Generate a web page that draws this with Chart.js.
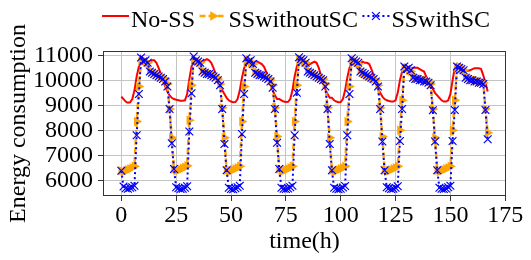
<!DOCTYPE html>
<html>
<head>
<meta charset="utf-8">
<script src="https://cdn.jsdelivr.net/npm/chart.js@4/dist/chart.umd.min.js"></script>
<style>
  html, body { margin: 0; padding: 0; background: #fff; }
  #c { display: block; }
</style>
</head>
<body>
<canvas id="c" width="531" height="260"></canvas>
<script>
// ---- data (hourly, one week) ----
const hours = [];
for (let i = 0; i < 168; i++) hours.push(i);

const noSS = [
  9350, 9250, 9150, 9100, 9120, 9250, 9600, 10150, 10550, 10700, 10650, 10700, 10750, 10750, 10800, 10800, 10700, 10500, 10250, 10000, 9750, 9550, 9400, 9300,
  9250, 9220, 9200, 9180, 9180, 9200, 9450, 10050, 10550, 10750, 10800, 10750, 10700, 10750, 10800, 10850, 10800, 10700, 10500, 10250, 10000, 9800, 9600, 9450,
  9300, 9200, 9150, 9120, 9130, 9250, 9600, 10100, 10500, 10650, 10700, 10650, 10700, 10750, 10750, 10700, 10650, 10550, 10350, 10100, 9850, 9600, 9400, 9250,
  9250, 9200, 9150, 9130, 9140, 9250, 9600, 10150, 10550, 10750, 10750, 10700, 10650, 10600, 10650, 10700, 10750, 10700, 10500, 10200, 9900, 9650, 9450, 9300,
  9300, 9200, 9150, 9120, 9130, 9250, 9600, 10100, 10500, 10650, 10700, 10700, 10650, 10700, 10750, 10700, 10700, 10650, 10450, 10200, 9950, 9700, 9500, 9350,
  9250, 9200, 9170, 9150, 9150, 9200, 9500, 10000, 10350, 10450, 10400, 10450, 10480, 10500, 10500, 10500, 10450, 10400, 10350, 10150, 9950, 9800, 9650, 9500,
  9400, 9300, 9200, 9150, 9150, 9200, 9450, 10000, 10500, 10650, 10650, 10600, 10500, 10400, 10380, 10400, 10450, 10480, 10480, 10480, 10450, 10200, 9900, 9550
];

const ssWithoutSC = [
  6380, 6350, 6380, 6420, 6460, 6500, 6560, 8350, 9750, 10750, 10800, 10750, 10700, 10400, 10350, 10300, 10250, 10200, 10150, 10100, 10050, 9850, 8850, 7700,
  6450, 6380, 6400, 6430, 6480, 6520, 6580, 8400, 9800, 10800, 10800, 10750, 10700, 10400, 10350, 10300, 10280, 10250, 10200, 10150, 10050, 9850, 8900, 7700,
  6400, 6350, 6380, 6420, 6460, 6500, 6560, 8350, 9750, 10750, 10800, 10700, 10650, 10350, 10300, 10250, 10250, 10200, 10150, 10100, 10000, 9800, 8900, 7750,
  6450, 6350, 6380, 6420, 6460, 6500, 6560, 8350, 9800, 10800, 10850, 10750, 10700, 10400, 10350, 10300, 10250, 10200, 10150, 10100, 10050, 9850, 8900, 7700,
  6400, 6350, 6380, 6420, 6460, 6500, 6560, 8350, 9750, 10750, 10800, 10700, 10650, 10400, 10300, 10250, 10200, 10150, 10100, 10050, 10000, 9800, 8900, 7750,
  6400, 6350, 6380, 6420, 6460, 6500, 6560, 8000, 9200, 10500, 10500, 10400, 10350, 10150, 10100, 10100, 10050, 10050, 10000, 10000, 9950, 9850, 8850, 7700,
  6400, 6350, 6380, 6420, 6460, 6500, 6560, 8000, 9200, 10500, 10550, 10450, 10400, 10150, 10100, 10050, 10050, 10000, 10000, 9950, 9950, 9900, 8850, 7900
];

const ssWithSC = [
  6380, 5750, 5680, 5660, 5700, 5720, 5780, 7800, 9450, 10910, 10750, 10800, 10700, 10350, 10300, 10250, 10200, 10150, 10100, 10050, 9950, 9750, 8850, 7480,
  6450, 5720, 5680, 5650, 5660, 5700, 5760, 7950, 9480, 10950, 10800, 10750, 10700, 10350, 10300, 10250, 10250, 10200, 10150, 10100, 10000, 9800, 8850, 7450,
  6400, 5700, 5650, 5640, 5680, 5720, 5780, 7850, 9450, 10880, 10750, 10800, 10650, 10300, 10250, 10200, 10200, 10150, 10100, 10050, 9950, 9700, 8850, 7500,
  6450, 5700, 5660, 5650, 5670, 5720, 5780, 7800, 9500, 10920, 10850, 10800, 10700, 10350, 10300, 10250, 10200, 10150, 10100, 10050, 10000, 9750, 8850, 7450,
  6400, 5700, 5660, 5640, 5660, 5710, 5770, 7800, 9450, 10880, 10800, 10750, 10700, 10350, 10300, 10250, 10200, 10150, 10100, 10050, 9950, 9750, 8850, 7550,
  6400, 5720, 5680, 5650, 5660, 5700, 5760, 7570, 8850, 10550, 10450, 10500, 10400, 10100, 10050, 10050, 10000, 10000, 9950, 9950, 9900, 9800, 8800, 7550,
  6400, 5700, 5660, 5650, 5670, 5720, 5780, 7570, 8810, 10550, 10500, 10450, 10400, 10100, 10050, 10000, 10000, 9950, 9950, 9900, 9900, 9850, 8810, 7640
];

const seriesLabels = ['No-SS', 'SSwithoutSC', 'SSwithSC'];
const xTicks = [0, 25, 50, 75, 100, 125, 150, 175];
const yTicks = [6000, 7000, 8000, 9000, 10000, 11000];

const FONT = 'Liberation Serif';

// ---- custom legend (matplotlib style) and frame ----
function drawMarker(ctx, style, x, y, r, color) {
  ctx.save();
  ctx.fillStyle = color; ctx.strokeStyle = color; ctx.setLineDash([]);
  if (style === 'triangle') {
    ctx.beginPath();
    ctx.moveTo(x + r, y);
    ctx.lineTo(x - r * 0.5, y - r * 0.866);
    ctx.lineTo(x - r * 0.5, y + r * 0.866);
    ctx.closePath(); ctx.fill();
  } else if (style === 'crossRot') {
    const d = r * 0.707;
    ctx.lineWidth = 1.2;
    ctx.beginPath();
    ctx.moveTo(x - d, y - d); ctx.lineTo(x + d, y + d);
    ctx.moveTo(x - d, y + d); ctx.lineTo(x + d, y - d);
    ctx.stroke();
  }
  ctx.restore();
}

const legendAndFrame = {
  id: 'legendAndFrame',
  afterDraw(chart) {
    const ctx = chart.ctx;
    const a = chart.chartArea;
    ctx.save();
    // frame
    ctx.strokeStyle = '#333';
    ctx.lineWidth = 1;
    ctx.setLineDash([]);
    ctx.strokeRect(Math.round(a.left) + 0.5, Math.round(a.top) + 0.5,
                   Math.round(a.right) - Math.round(a.left) - 1, Math.round(a.bottom) - Math.round(a.top) - 1);
    // legend, in label order
    ctx.font = '24px "' + FONT + '"';
    ctx.textBaseline = 'alphabetic';
    let x = 102;
    const yLine = 16, yText = 26.5, sample = 27;
    seriesLabels.forEach(lbl => {
      const ds = chart.data.datasets.find(d => d.label === lbl);
      ctx.save();
      ctx.strokeStyle = ds.borderColor;
      ctx.lineWidth = ds.borderWidth;
      ctx.setLineDash(ds.borderDash || []);
      ctx.beginPath(); ctx.moveTo(x, yLine); ctx.lineTo(x + sample, yLine); ctx.stroke();
      ctx.restore();
      if (ds.pointRadius > 0) drawMarker(ctx, ds.pointStyle, x + sample / 2, yLine, ds.pointRadius, ds.borderColor);
      x += sample + 2;
      ctx.fillStyle = '#000';
      ctx.fillText(ds.label, x, yText);
      x += ctx.measureText(ds.label).width + 4.5;
    });
    ctx.restore();
  }
};

const tickFont = { family: FONT, size: 24 };

new Chart(document.getElementById('c'), {
  type: 'line',
  data: {
    labels: hours,
    datasets: [
      {
        label: seriesLabels[2], data: ssWithSC,
        borderColor: '#0000ff', backgroundColor: '#0000ff',
        borderWidth: 2, borderDash: [2, 3],
        pointStyle: 'crossRot', pointRadius: 5.5, pointBorderWidth: 1.2,
        pointBorderColor: '#0000ff', order: 1
      },
      {
        label: seriesLabels[1], data: ssWithoutSC,
        borderColor: '#ffa500', backgroundColor: '#ffa500',
        borderWidth: 2.5, borderDash: [6, 3],
        pointStyle: 'triangle', rotation: 90, pointRadius: 5.5, pointBorderWidth: 0,
        pointBackgroundColor: '#ffa500', order: 2
      },
      {
        label: seriesLabels[0], data: noSS,
        borderColor: '#ff0000', backgroundColor: '#ff0000',
        borderWidth: 2, pointRadius: 0, order: 3
      }
    ]
  },
  options: {
    responsive: false,
    animation: false,
    devicePixelRatio: 1,
    layout: { padding: { top: 51, right: 25, left: 0, bottom: 0 } },
    elements: { line: { tension: 0, fill: false } },
    plugins: { legend: { display: false }, tooltip: { enabled: false } },
    scales: {
      x: {
        type: 'linear', min: -8.35, max: 175.35,
        afterBuildTicks: s => { s.ticks = xTicks.map(v => ({ value: v })); },
        afterFit: s => { s.height = 64; },
        ticks: { font: tickFont, color: '#000', padding: 0, maxRotation: 0, autoSkip: false, callback: v => String(v) },
        grid: { color: '#c4c4c4', lineWidth: 1, tickColor: '#333', tickLength: 5 },
        border: { display: false },
        title: { display: true, text: 'time(h)', font: { family: FONT, size: 24 }, color: '#000', padding: { top: 0, bottom: 4 } }
      },
      y: {
        type: 'linear', min: 5372, max: 11172,
        afterBuildTicks: s => { s.ticks = yTicks.map(v => ({ value: v })); },
        afterFit: s => { s.width = 103; },
        ticks: { font: tickFont, color: '#000', padding: 5, autoSkip: false, callback: v => String(v) },
        grid: { color: '#c4c4c4', lineWidth: 1, tickColor: '#333', tickLength: 5 },
        border: { display: false },
        title: { display: true, text: 'Energy consumption', font: { family: FONT, size: 24 }, color: '#000', padding: { top: 4, bottom: 0 } }
      }
    }
  },
  plugins: [legendAndFrame]
});
</script>
</body>
</html>
